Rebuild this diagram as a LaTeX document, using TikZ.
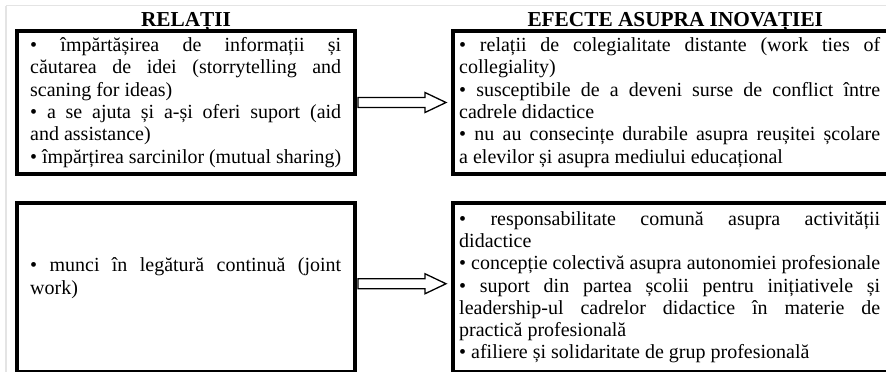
\documentclass[tikz,border=0pt]{standalone}
\usepackage{fontspec}
\setmainfont{Liberation Serif}
\usepackage{graphicx}
\usetikzlibrary{positioning, calc}
\definecolor{faintgray}{RGB}{228,228,228}
\newcommand{\bodyfont}{\fontsize{20}{22.3}\selectfont\parindent=0pt\tolerance=10000\hbadness=10000\hyphenpenalty=10000}
\newcommand{\fitline}[1]{\resizebox{\hsize}{\height}{#1}}
\newcommand{\hollowarrow}[2]{%
  \draw[blockarrow] let \p1=#1, \p2=#2 in
    (\x1,\y1+5pt) -- (\x2-21pt,\y1+5pt) -- (\x2-21pt,\y1+10pt) -- (\x2,\y1)
    -- (\x2-21pt,\y1-10pt) -- (\x2-21pt,\y1-5pt) -- (\x1,\y1-5pt) -- cycle;}
\tikzset{
  framebox/.style={rectangle, draw=black, line width=4pt, inner sep=0pt, anchor=north west},
  bodytext/.style={inner sep=0pt, align=justify, font=\bodyfont},
  titletext/.style={inner sep=0pt, font=\bfseries\fontsize{21.3}{24}\selectfont},
  blockarrow/.style={draw=black, fill=white, line width=1.3pt, line join=miter},
  faintline/.style={draw=faintgray, line width=1.2pt}
}
\begin{document}
\begin{tikzpicture}[x=1pt, y=-1pt]
  \clip (0,0) rectangle (886,372);
  \fill[white] (0,0) rectangle (886,372);
  % page edges
  \draw[faintline] (6,5.5) -- (886,5.5);
  \draw[faintline] (6,5.5) -- (6,372);

  % Relatii column
  \node[framebox, minimum width=338pt, minimum height=143pt] (rel1) at (15,29) {};
  \node[framebox, minimum width=338pt, minimum height=168.5pt] (rel2) at (15,201) {};
  \node[titletext, above=3pt of rel1.north, anchor=base] (reltitle) {RELAȚII};

  \node[bodytext, text width=311pt, right=15pt of rel1.west] (rel1txt) {%
    • împărtășirea de informații și\linebreak căutarea de idei (storrytelling and\linebreak scaning for ideas)\par
    • a se ajuta și a-și oferi suport (aid\linebreak and assistance)\par
    \fitline{• împărțirea sarcinilor (mutual sharing)}};
  \node[bodytext, text width=311pt, right=15pt of rel2.west, yshift=9pt] (rel2txt) {%
    • munci în legătură continuă (joint\linebreak work)};

  % Efecte column
  \node[framebox, minimum width=445.5pt, minimum height=143pt] (eff1) at (450.5,29) {};
  \node[framebox, minimum width=445.5pt, minimum height=168.5pt] (eff2) at (450.5,201) {};
  \node[titletext, above=3pt of eff1.north, anchor=base] (efftitle) {EFECTE ASUPRA INOVAȚIEI};

  \node[bodytext, text width=421pt, right=8.5pt of eff1.west] (eff1txt) {%
    • relații de colegialitate distante (work ties of\linebreak collegiality)\par
    • susceptibile de a deveni surse de conflict între\linebreak cadrele didactice\par
    • nu au consecințe durabile asupra reușitei școlare\linebreak a elevilor și asupra mediului educațional};
  \node[bodytext, text width=421pt, right=8.5pt of eff2.west] (eff2txt) {%
    • responsabilitate comună asupra activității\linebreak didactice\par
    \fitline{• concepție colectivă asupra autonomiei profesionale}\par
    • suport din partea școlii pentru inițiativele și\linebreak leadership-ul cadrelor didactice în materie de\linebreak practică profesională\par
    • afiliere și solidaritate de grup profesională};

  % arrows
  \hollowarrow{($(rel1.east)+(1,0)$)}{($(eff1.west)+(-4.5,0)$)}
  \hollowarrow{($(rel2.east)+(1,-3.5)$)}{($(eff2.west)+(-4.5,-3.5)$)}
\end{tikzpicture}
\end{document}
